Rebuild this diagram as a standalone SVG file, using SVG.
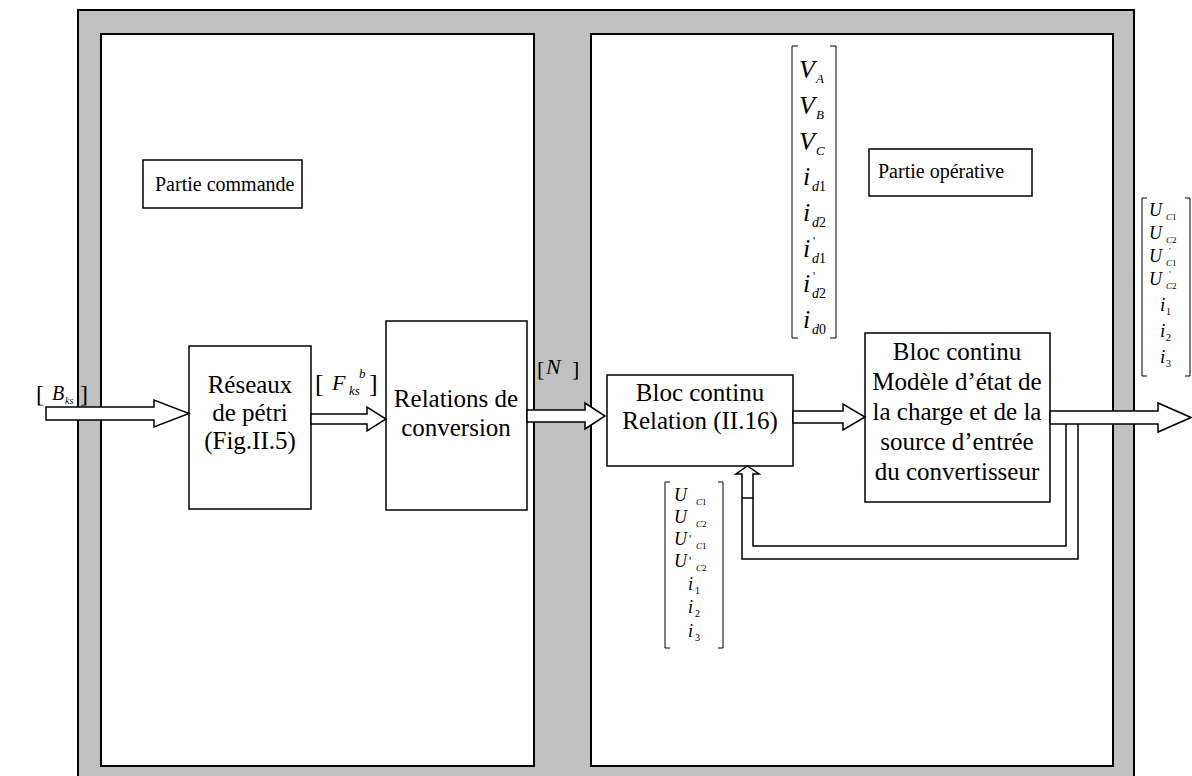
<svg xmlns="http://www.w3.org/2000/svg" width="1192" height="776" viewBox="0 0 1192 776" font-family="'Liberation Serif', 'Times New Roman', serif">
<style>
.panel{fill:#fff;stroke:#000;stroke-width:2}
.box{fill:#fff;stroke:#000;stroke-width:1.5}
.arr{fill:#fff;stroke:#000;stroke-width:1.5;stroke-linejoin:miter}
.fb{fill:none;stroke:#000;stroke-width:1.5}
.brk{fill:none;stroke:#000;stroke-width:1}
.t{font-family:"Liberation Serif","Times New Roman",serif;font-size:25px;fill:#000;text-anchor:middle}
.lbl{font-family:"Liberation Serif","Times New Roman",serif;font-size:20px;fill:#000}
.mi{font-family:"Liberation Serif","Times New Roman",serif;font-style:italic;fill:#000}
.mr{font-family:"Liberation Serif","Times New Roman",serif;font-style:normal;fill:#000}
</style>
<rect x="0" y="0" width="1192" height="776" fill="#fff"/>
<g id="frame">
<rect x="78" y="10" width="1056" height="780" fill="#c0c0c0" stroke="#000" stroke-width="2"/>
</g>
<g id="partie-commande-panel"><rect class="panel" x="101" y="34" width="433" height="732"/></g>
<g id="partie-operative-panel"><rect class="panel" x="591" y="34" width="522" height="732"/></g>

<g id="label-commande">
<rect class="box" x="143" y="160" width="159" height="48"/>
<text class="lbl" x="155" y="191">Partie commande</text>
</g>
<g id="label-operative">
<rect class="box" x="869" y="149" width="163" height="47"/>
<text class="lbl" x="878" y="178">Partie opérative</text>
</g>

<g id="reseaux">
<rect class="box" x="189" y="346" width="122" height="163"/>
<text class="t" x="250" y="393">Réseaux</text>
<text class="t" x="250" y="421">de pétri</text>
<text class="t" x="250" y="449">(Fig.II.5)</text>
</g>
<g id="relations">
<rect class="box" x="386" y="321" width="141" height="189"/>
<text class="t" x="456" y="407">Relations de</text>
<text class="t" x="456" y="436">conversion</text>
</g>
<g id="bloc-relation">
<rect class="box" x="607" y="375" width="186" height="91"/>
<text class="t" x="700" y="401">Bloc continu</text>
<text class="t" x="700" y="429">Relation (II.16)</text>
</g>
<g id="bloc-modele">
<rect class="box" x="865" y="333" width="185" height="169"/>
<text class="t" x="957" y="360">Bloc continu</text>
<text class="t" x="957" y="390">Modèle d’état de</text>
<text class="t" x="957" y="420">la charge et de la</text>
<text class="t" x="957" y="450">source d’entrée</text>
<text class="t" x="957" y="480">du convertisseur</text>
</g>

<g id="connectors">
<polygon class="arr" points="46,407 154,407 154,400 189,413.5 154,427 154,420 46,420"/>
<polygon class="arr" points="311,414 367,414 367,407 386,419 367,431 367,424 311,424"/>
<polygon class="arr" points="527,410 585,410 585,403 605,416 585,429 585,422 527,422"/>
<polygon class="arr" points="793,411 843,411 843,404 865,417 843,430 843,423 793,423"/>
<polygon class="arr" points="1050,411 1158,411 1158,403 1191,417.5 1158,432 1158,424 1050,424"/>
<polyline class="fb" points="753,498 753,546 1066,546 1066,424"/>
<polyline class="fb" points="742,498 742,559 1078,559 1078,424"/>
<polygon class="arr" points="742,498 742,474 736,474 747.5,466 759,474 753,474 753,498"/>
</g>

<g id="label-bks">
<text class="mr" font-size="24" x="36" y="402">[</text>
<text class="mi" font-size="20" x="52" y="400">B</text>
<text class="mi" font-size="10" x="65" y="404">ks</text>
<text class="mr" font-size="24" x="80" y="402">]</text>
</g>
<g id="label-fks">
<text class="mr" font-size="26" x="315" y="392">[</text>
<text class="mi" font-size="22" x="332" y="390">F</text>
<text class="mi" font-size="13" x="359" y="378">b</text>
<text class="mi" font-size="13" x="349" y="395">ks</text>
<text class="mr" font-size="26" x="369" y="392">]</text>
</g>
<g id="label-n">
<text class="mr" font-size="22" x="537" y="376">[</text>
<text class="mi" font-size="22" x="546" y="374">N</text>
<text class="mr" font-size="22" x="572" y="376">]</text>
</g>

<g id="matrix-top">
<polyline class="brk" points="798,46 792,46 792,338 798,338"/>
<polyline class="brk" points="830,46 836,46 836,338 830,338"/>
<text class="mi" font-size="26" x="799" y="78">V</text><text class="mi" font-size="13" x="816" y="83">A</text>
<text class="mi" font-size="26" x="799" y="114">V</text><text class="mi" font-size="13" x="816" y="119">B</text>
<text class="mi" font-size="26" x="799" y="150">V</text><text class="mi" font-size="13" x="816" y="155">C</text>
<text class="mi" font-size="26" x="803" y="185">i</text><text class="mi" font-size="14" x="812" y="191">d<tspan class="mr">1</tspan></text>
<text class="mi" font-size="26" x="803" y="221">i</text><text class="mi" font-size="14" x="812" y="227">d<tspan class="mr">2</tspan></text>
<text class="mi" font-size="26" x="803" y="257">i</text><text class="mr" font-size="12" x="813" y="245">'</text><text class="mi" font-size="14" x="812" y="263">d<tspan class="mr">1</tspan></text>
<text class="mi" font-size="26" x="803" y="292">i</text><text class="mr" font-size="12" x="813" y="280">'</text><text class="mi" font-size="14" x="812" y="298">d<tspan class="mr">2</tspan></text>
<text class="mi" font-size="26" x="803" y="328">i</text><text class="mi" font-size="14" x="812" y="334">d<tspan class="mr">0</tspan></text>
</g>

<g id="matrix-right">
<polyline class="brk" points="1147,198 1142,198 1142,376 1147,376"/>
<polyline class="brk" points="1185,198 1190,198 1190,376 1185,376"/>
<text class="mi" font-size="18" x="1149" y="216">U</text><text class="mi" font-size="9" x="1166" y="220">C<tspan class="mr">1</tspan></text>
<text class="mi" font-size="18" x="1149" y="239">U</text><text class="mi" font-size="9" x="1166" y="243">C<tspan class="mr">2</tspan></text>
<text class="mi" font-size="18" x="1149" y="262">U</text><text class="mr" font-size="9" x="1169" y="254">'</text><text class="mi" font-size="9" x="1166" y="266">C<tspan class="mr">1</tspan></text>
<text class="mi" font-size="18" x="1149" y="285">U</text><text class="mr" font-size="9" x="1169" y="277">'</text><text class="mi" font-size="9" x="1166" y="289">C<tspan class="mr">2</tspan></text>
<text class="mi" font-size="19" x="1160" y="311">i</text><text class="mr" font-size="10" x="1166" y="315">1</text>
<text class="mi" font-size="19" x="1160" y="337">i</text><text class="mr" font-size="10" x="1166" y="341">2</text>
<text class="mi" font-size="19" x="1160" y="363">i</text><text class="mr" font-size="10" x="1166" y="367">3</text>
</g>

<g id="matrix-bottom">
<polyline class="brk" points="670,482 665,482 665,648 670,648"/>
<polyline class="brk" points="718,482 723,482 723,648 718,648"/>
<text class="mi" font-size="18" x="674" y="501">U</text><text class="mi" font-size="9" x="696" y="505">C<tspan class="mr">1</tspan></text>
<text class="mi" font-size="18" x="674" y="523">U</text><text class="mi" font-size="9" x="696" y="527">C<tspan class="mr">2</tspan></text>
<text class="mi" font-size="18" x="674" y="545">U</text><text class="mr" font-size="12" x="689" y="543">'</text><text class="mi" font-size="9" x="696" y="549">C<tspan class="mr">1</tspan></text>
<text class="mi" font-size="18" x="674" y="567">U</text><text class="mr" font-size="12" x="689" y="565">'</text><text class="mi" font-size="9" x="696" y="571">C<tspan class="mr">2</tspan></text>
<text class="mi" font-size="18" x="688" y="590">i</text><text class="mr" font-size="10" x="695" y="594">1</text>
<text class="mi" font-size="18" x="688" y="613">i</text><text class="mr" font-size="10" x="695" y="617">2</text>
<text class="mi" font-size="18" x="688" y="637">i</text><text class="mr" font-size="10" x="695" y="641">3</text>
</g>
</svg>
